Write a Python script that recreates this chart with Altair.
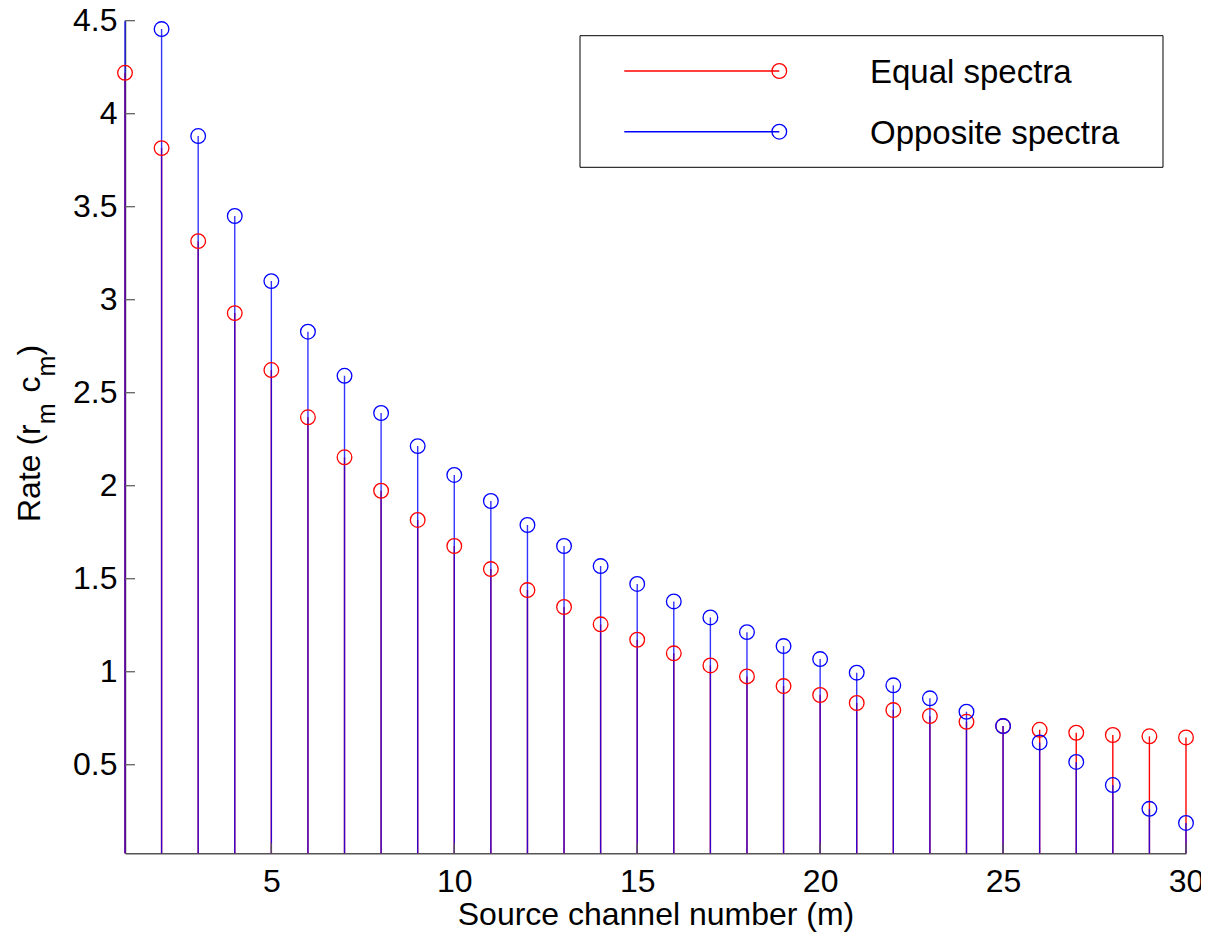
import altair as alt
import pandas as pd

# ---- data ----
channels = list(range(1, 31))
equal_spectra = [4.22, 3.815, 3.315, 2.928, 2.622, 2.368, 2.153, 1.973, 1.816, 1.676,
                 1.552, 1.439, 1.348, 1.255, 1.172, 1.099, 1.034, 0.975, 0.923, 0.875,
                 0.832, 0.794, 0.762, 0.731, 0.708, 0.688, 0.672, 0.660, 0.653, 0.647]
opposite_spectra = [5.2, 4.455, 3.880, 3.450, 3.100, 2.828, 2.591, 2.391, 2.213, 2.058,
                    1.918, 1.789, 1.676, 1.568, 1.472, 1.378, 1.292, 1.213, 1.138, 1.068,
                    0.995, 0.927, 0.857, 0.785, 0.708, 0.620, 0.515, 0.391, 0.263, 0.187]
x_ticks = [5, 10, 15, 20, 25, 30]
y_ticks = [0.5, 1, 1.5, 2, 2.5, 3, 3.5, 4, 4.5]
series_names = ["Equal spectra", "Opposite spectra"]
series_colors = ["#ff0000", "#0000ff"]

FONT = "Liberation Sans"
W, H = 1061, 832.6
Y_MIN, Y_MAX = 0.024, 4.5
MSIZE = 215

eq_df = pd.DataFrame({"m": channels, "rate": equal_spectra})
op_df = pd.DataFrame({"m": channels, "rate": opposite_spectra})

xscale = alt.Scale(domain=[1, 30], nice=False, zero=False)
yscale = alt.Scale(domain=[Y_MIN, Y_MAX], nice=False, zero=False, clamp=True)

x_axis = alt.Axis(values=x_ticks, ticks=False, grid=False, labelFont=FONT, labelFontSize=32,
                  labelColor="black", labelPadding=13, labelFlush=False,
                  domainColor="#555555", domainWidth=1.5,
                  title="Source channel number (m)", titleFont=FONT, titleFontSize=32,
                  titleFontWeight="normal", titleColor="black", titlePadding=2)
y_axis = alt.Axis(values=y_ticks, ticks=False, grid=False, labelFont=FONT, labelFontSize=32,
                  labelColor="black", labelPadding=8, labelFlush=False,
                  domainColor="#555555", domainWidth=1.5,
                  format="~g", title=None)

X = alt.X("m:Q", scale=xscale, axis=x_axis)
Y = alt.Y("rate:Q", scale=yscale, axis=y_axis)

red_stems = alt.Chart(eq_df).mark_rule(color=series_colors[0], strokeWidth=1.4).encode(
    x=X, y=Y, y2=alt.datum(0))
blue_stems = alt.Chart(op_df).mark_rule(color=series_colors[1], strokeWidth=1.4, opacity=0.8).encode(
    x=alt.X("m:Q", scale=xscale), y=alt.Y("rate:Q", scale=yscale), y2=alt.datum(0))
red_pts = alt.Chart(eq_df).mark_point(shape="circle", filled=False, size=MSIZE, strokeWidth=1.3,
                                      color=series_colors[0], opacity=1).encode(
    x=alt.X("m:Q", scale=xscale), y=alt.Y("rate:Q", scale=yscale)
).transform_filter(alt.datum.rate <= Y_MAX)
blue_pts = alt.Chart(op_df).mark_point(shape="circle", filled=False, size=MSIZE, strokeWidth=1.3,
                                       color=series_colors[1], opacity=1).encode(
    x=alt.X("m:Q", scale=xscale), y=alt.Y("rate:Q", scale=yscale)
).transform_filter(alt.datum.rate <= Y_MAX)

# inward tick marks
ytick_df = pd.DataFrame({"t": y_ticks})
ytick_layer = alt.Chart(ytick_df).mark_rule(color="#555555", strokeWidth=1.2).encode(
    y=alt.Y("t:Q", scale=yscale), x=alt.value(0), x2=alt.value(10))
xtick_df = pd.DataFrame({"t": x_ticks})
xtick_layer = alt.Chart(xtick_df).mark_rule(color="#555555", strokeWidth=1.2).encode(
    x=alt.X("t:Q", scale=xscale), y=alt.value(H), y2=alt.value(H - 10))

one = pd.DataFrame({"k": [0]})

# y-axis title with subscripts, built from pieces (rotated): (text, size, baseline shift, advance px)
pieces = [("Rate (r", 32, 0, 3.056 * 32), ("m", 25, 15, 0.833 * 25 + 11),
          ("c", 32, 0, 0.5 * 32), ("m", 25, 15, 0.833 * 25), (")", 32, 0, 0.333 * 32)]
title_layers = []
pos = 501.3
for txt, fs, shift, adv in pieces:
    title_layers.append(
        alt.Chart(one).mark_text(text=txt, font=FONT, fontSize=fs, angle=270, align="left",
                                 baseline="alphabetic", color="black").encode(
            x=alt.value(-85 + shift), y=alt.value(pos)))
    pos -= adv

# legend box
legend_box = alt.Chart(one).mark_rect(fill="white", stroke="black", strokeWidth=1).encode(
    x=alt.value(455), x2=alt.value(1038), y=alt.value(15), y2=alt.value(146.6))
legend_layers = [legend_box]
for i, (name, col) in enumerate(zip(series_names, series_colors)):
    yy = 50.3 + i * 60.7
    legend_layers.append(alt.Chart(one).mark_rule(color=col, strokeWidth=1.4).encode(
        x=alt.value(499.3), x2=alt.value(654.3), y=alt.value(yy)))
    legend_layers.append(alt.Chart(one).mark_point(shape="circle", filled=False, size=MSIZE,
                                                   strokeWidth=1.3, color=col, opacity=1).encode(
        x=alt.value(654.3), y=alt.value(yy)))
    legend_layers.append(alt.Chart(one).mark_text(text=name, font=FONT, fontSize=33, align="left",
                                                  baseline="alphabetic", color="black").encode(
        x=alt.value(745), y=alt.value(yy + 12.3)))

chart = alt.layer(red_stems, blue_stems, red_pts, blue_pts, ytick_layer, xtick_layer,
                  *title_layers, *legend_layers).resolve_scale(x="shared", y="shared").properties(
    width=W, height=H,
    autosize=alt.AutoSizeParams(type="none"),
    padding={"left": 117, "top": 12.7, "right": 15, "bottom": 90},
    background="white",
).configure_view(stroke=None)

chart.save("out.html", embed_options={"renderer": "svg", "actions": False})
